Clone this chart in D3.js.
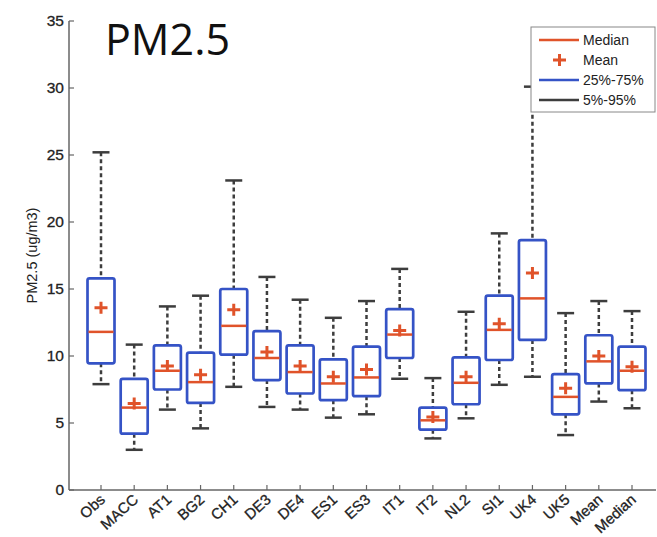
<!DOCTYPE html>
<html lang="en">

<head>
    <meta charset="UTF-8">
    <title>PM2.5 box plot</title>
    <script src="https://cdn.jsdelivr.net/npm/d3@7"></script>
    <style>
        body { margin: 0; background: #fff; }
    </style>
</head>

<body>
</body>
<script>
    // Values
    const categories = ["Obs", "MACC", "AT1", "BG2", "CH1", "DE3", "DE4", "ES1", "ES3", "IT1", "IT2", "NL2", "SI1", "UK4", "UK5", "Mean", "Median"];
    const p5 = [7.9, 3.0, 6.0, 4.6, 7.7, 6.2, 6.0, 5.4, 5.65, 8.3, 3.85, 5.35, 7.85, 8.45, 4.1, 6.6, 6.1];
    const p25 = [9.45, 4.2, 7.5, 6.5, 10.1, 8.2, 7.2, 6.7, 7.0, 9.85, 4.5, 6.4, 9.7, 11.2, 5.65, 7.95, 7.45];
    const medians = [11.8, 6.15, 8.9, 8.05, 12.25, 9.85, 8.8, 7.95, 8.4, 11.6, 5.2, 8.0, 11.95, 14.3, 6.95, 9.6, 8.9];
    const means = [13.6, 6.45, 9.25, 8.6, 13.45, 10.3, 9.25, 8.45, 9.0, 11.9, 5.45, 8.45, 12.4, 16.2, 7.6, 10.0, 9.2];
    const p75 = [15.8, 8.3, 10.8, 10.25, 15.0, 11.85, 10.8, 9.75, 10.7, 13.5, 6.15, 9.9, 14.5, 18.65, 8.65, 11.55, 10.7];
    const p95 = [25.2, 10.85, 13.7, 14.5, 23.1, 15.9, 14.2, 12.85, 14.1, 16.5, 8.35, 13.3, 19.15, 30.1, 13.2, 14.1, 13.35];
    const yTicks = [0, 5, 10, 15, 20, 25, 30, 35];
    const legendItems = ["Median", "Mean", "25%-75%", "5%-95%"];

    const width = 657;
    const height = 537;
    const blue = "#3553c6";
    const red = "#e0532a";
    const grey = "#3d3d3d";

    const data = categories.map((c, i) => ({
        name: c, lo: p5[i], q1: p25[i], med: medians[i], mean: means[i], q3: p75[i], hi: p95[i]
    }));

    const svg = d3.select("body")
        .append("svg")
        .attr("width", width)
        .attr("height", height)
        .style("font-family", "'Liberation Sans', Arial, sans-serif");

    const x = d3.scalePoint().domain(categories).range([101, 632]);
    const y = d3.scaleLinear().domain([0, 35]).range([490, 21]);

    const boxW = 27;
    const capW = 17;

    //Axes
    svg.append("line")
        .attr("x1", 69).attr("x2", 69)
        .attr("y1", y(35)).attr("y2", y(0))
        .attr("stroke", "#666").attr("stroke-width", 1.5);
    svg.append("line")
        .attr("x1", 69).attr("x2", 656)
        .attr("y1", y(0)).attr("y2", y(0))
        .attr("stroke", "#666").attr("stroke-width", 1.5);

    const yt = svg.append("g").selectAll("g")
        .data(yTicks)
        .join("g")
        .attr("transform", d => `translate(69,${y(d)})`);
    yt.append("line").attr("x2", 5).attr("stroke", "#666").attr("stroke-width", 1.2);
    yt.append("text")
        .attr("x", -5).attr("dy", "0.35em")
        .attr("text-anchor", "end")
        .attr("font-size", 15.5)
        .attr("fill", "#222")
        .attr("stroke", "#222").attr("stroke-width", 0.3)
        .text(d => d);

    const xt = svg.append("g").selectAll("g")
        .data(categories)
        .join("g")
        .attr("transform", d => `translate(${x(d)},${y(0)})`);
    xt.append("line").attr("y2", -5).attr("stroke", "#666").attr("stroke-width", 1.2);
    xt.append("text")
        .attr("transform", "translate(5,11) rotate(-42)")
        .attr("text-anchor", "end")
        .attr("font-size", 15)
        .attr("fill", "#222")
        .attr("stroke", "#222").attr("stroke-width", 0.3)
        .text(d => d);

    svg.append("text")
        .attr("transform", `translate(37,${(y(0) + y(35)) / 2}) rotate(-90)`)
        .attr("text-anchor", "middle")
        .attr("font-size", 14.5)
        .attr("fill", "#222")
        .text("PM2.5 (ug/m3)");

    //Boxes
    const g = svg.append("g").selectAll("g")
        .data(data)
        .join("g")
        .attr("transform", d => `translate(${x(d.name)},0)`);

    // dashed whiskers
    g.append("line")
        .attr("y1", d => y(d.hi)).attr("y2", d => y(d.q3))
        .attr("stroke", grey).attr("stroke-width", 2.5).attr("stroke-dasharray", "4,3");
    g.append("line")
        .attr("y1", d => y(d.q1)).attr("y2", d => y(d.lo))
        .attr("stroke", grey).attr("stroke-width", 2.5).attr("stroke-dasharray", "4,3");
    // caps
    g.append("line")
        .attr("x1", -capW / 2).attr("x2", capW / 2)
        .attr("y1", d => y(d.hi)).attr("y2", d => y(d.hi))
        .attr("stroke", grey).attr("stroke-width", 2.5);
    g.append("line")
        .attr("x1", -capW / 2).attr("x2", capW / 2)
        .attr("y1", d => y(d.lo)).attr("y2", d => y(d.lo))
        .attr("stroke", grey).attr("stroke-width", 2.5);

    g.append("rect")
        .attr("x", -boxW / 2).attr("width", boxW)
        .attr("y", d => y(d.q3))
        .attr("height", d => y(d.q1) - y(d.q3))
        .attr("rx", 2)
        .attr("fill", "none")
        .attr("stroke", blue).attr("stroke-width", 2.7);

    g.append("line")
        .attr("x1", -boxW / 2 + 1).attr("x2", boxW / 2 - 1)
        .attr("y1", d => y(d.med)).attr("y2", d => y(d.med))
        .attr("stroke", red).attr("stroke-width", 2.5);

    g.append("path")
        .attr("d", d => `M-6.5,${y(d.mean)}h13M0,${y(d.mean) - 6}v12`)
        .attr("stroke", red).attr("stroke-width", 3);

    //Title
    svg.append("text")
        .attr("x", 105).attr("y", 55)
        .attr("font-family", "'Open Sans', sans-serif")
        .attr("font-size", 43)
        .attr("fill", "#111")
        .text("PM2.5");

    //Legend
    const lg = svg.append("g").attr("transform", "translate(531,27)");
    lg.append("rect")
        .attr("width", 124).attr("height", 85)
        .attr("fill", "#fff")
        .attr("stroke", "#888").attr("stroke-width", 1);
    const li = lg.selectAll("g.item")
        .data(legendItems)
        .join("g")
        .attr("class", "item")
        .attr("transform", (d, i) => `translate(0,${13 + i * 20})`);
    li.each(function (d, i) {
        const s = d3.select(this);
        if (i === 1) {
            s.append("path").attr("d", "M22,0h13M28.5,-6v12").attr("stroke", red).attr("stroke-width", 3);
        } else {
            s.append("line").attr("x1", 8).attr("x2", 48)
                .attr("stroke", i === 0 ? red : i === 2 ? blue : grey)
                .attr("stroke-width", 2.5);
        }
    });
    li.append("text")
        .attr("x", 52).attr("dy", "0.35em")
        .attr("font-size", 14)
        .attr("fill", "#222")
        .text(d => d);
</script>

</html>
